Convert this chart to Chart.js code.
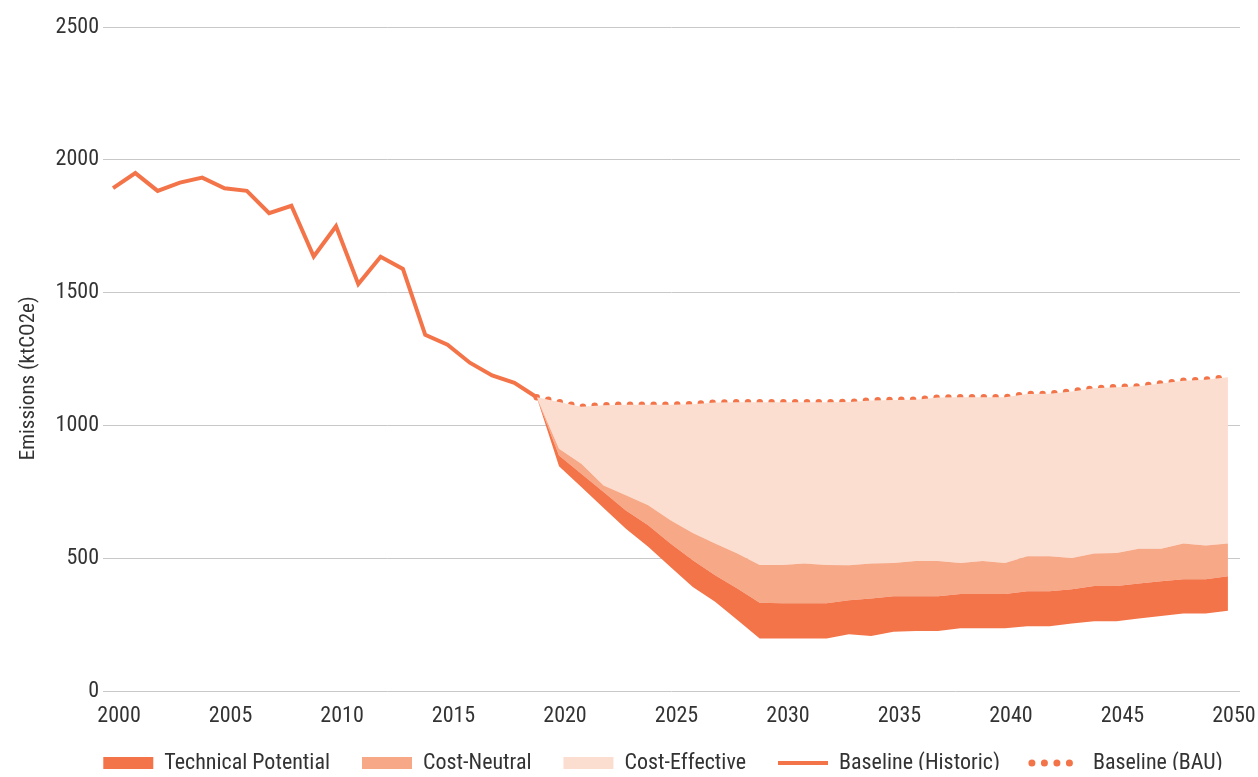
<!DOCTYPE html>
<html>
<head>
<meta charset="utf-8">
<script src="https://cdn.jsdelivr.net/npm/chart.js@4.4.1/dist/chart.umd.min.js"></script>
<style>
  html, body { margin: 0; padding: 0; background: #fff; }
  #wrap { width: 1258px; height: 777px; position: relative; }
</style>
</head>
<body>
<div id="wrap"><canvas id="c"></canvas></div>
<script>
// ---- Data ----
const historicYears = [2000,2001,2002,2003,2004,2005,2006,2007,2008,2009,2010,2011,2012,2013,2014,2015,2016,2017,2018,2019];
const historicValues = [1893,1950,1883,1914,1933,1893,1883,1799,1827,1636,1750,1532,1635,1589,1341,1304,1236,1188,1160,1106];

const projYears = [2019,2020,2021,2022,2023,2024,2025,2026,2027,2028,2029,2030,2031,2032,2033,2034,2035,2036,2037,2038,2039,2040,2041,2042,2043,2044,2045,2046,2047,2048,2049,2050];
const bauValues = [1106,1088,1070,1076,1078,1078,1078,1080,1086,1087,1087,1087,1087,1087,1088,1094,1096,1097,1105,1106,1106,1106,1118,1119,1128,1140,1144,1147,1158,1168,1172,1181];
// lower edge of the Technical Potential band
const technicalLower = [1106,846,768,689,611,543,467,392,336,267,198,198,198,198,214,207,223,226,226,236,236,236,244,244,254,263,263,273,282,292,292,302];
// Technical Potential / Cost-Neutral boundary
const costNeutralLower = [1106,887,818,749,680,624,555,492,436,386,332,330,330,330,342,348,357,357,357,365,365,365,376,376,383,395,395,405,413,421,421,432];
// Cost-Neutral / Cost-Effective boundary
const costEffectiveLower = [1106,912,856,774,737,699,643,595,555,518,474,474,480,474,473,480,482,489,489,482,489,482,507,507,501,518,520,536,536,555,548,555];

const xTickValues = [2000,2005,2010,2015,2020,2025,2030,2035,2040,2045,2050];
const yTickStep = 500;
const yMax = 2500;

// ---- Styles ----
const C_DARK = '#F4744A';
const C_MED = '#F7A886';
const C_LIGHT = '#FBDECF';
const FONT = "'Roboto Condensed', 'Liberation Sans Narrow', 'Arial Narrow', sans-serif";
const TEXT = '#333333';

const pts = (xs, ys) => xs.map((x, i) => ({ x: x, y: ys[i] }));

const datasets = [
  { label: '_lower', data: pts(projYears, technicalLower), borderWidth: 0, pointRadius: 0, fill: false, borderColor: 'rgba(0,0,0,0)' },
  { label: 'Technical Potential', data: pts(projYears, costNeutralLower), borderWidth: 0, pointRadius: 0, fill: '-1', backgroundColor: C_DARK, borderColor: 'rgba(0,0,0,0)' },
  { label: 'Cost-Neutral', data: pts(projYears, costEffectiveLower), borderWidth: 0, pointRadius: 0, fill: '-1', backgroundColor: C_MED, borderColor: 'rgba(0,0,0,0)' },
  { label: 'Cost-Effective', data: pts(projYears, bauValues), borderWidth: 0, pointRadius: 0, fill: '-1', backgroundColor: C_LIGHT, borderColor: 'rgba(0,0,0,0)' },
  { label: 'Baseline (BAU)', data: pts(projYears, bauValues), borderWidth: 6.5, borderDash: [0, 11.8], borderCapStyle: 'round', borderColor: C_DARK, pointRadius: 0, fill: false },
  { label: 'Baseline (Historic)', data: pts(historicYears, historicValues), borderWidth: 4, borderColor: C_DARK, borderJoinStyle: 'miter', pointRadius: 0, fill: false }
];

const legendItems = [
  { text: 'Technical Potential', fillStyle: C_DARK, strokeStyle: C_DARK, lineWidth: 0, pointStyle: 'rect' },
  { text: 'Cost-Neutral', fillStyle: C_MED, strokeStyle: C_MED, lineWidth: 0, pointStyle: 'rect' },
  { text: 'Cost-Effective', fillStyle: C_LIGHT, strokeStyle: C_LIGHT, lineWidth: 0, pointStyle: 'rect' },
  { text: 'Baseline (Historic)', fillStyle: C_DARK, strokeStyle: C_DARK, lineWidth: 4, pointStyle: 'line' },
  { text: 'Baseline (BAU)', fillStyle: C_DARK, strokeStyle: C_DARK, lineWidth: 7, pointStyle: 'line', lineDash: [0, 12.5], lineCap: 'round' }
];

const LEGEND_HEIGHT = 50;
const LEGEND_SHIFT_X = 43;
const LEGEND_SHIFT_Y = -7;

const legendTweak = {
  id: 'legendTweak',
  afterInit(chart) {
    const lg = chart.legend;
    if (!lg) return;
    const origFit = lg.fit.bind(lg);
    lg.fit = function () { origFit(); this.height = LEGEND_HEIGHT; };
  },
  afterLayout(chart) {
    const lg = chart.legend;
    if (!lg) return;
    lg.left += LEGEND_SHIFT_X;
    lg.right += LEGEND_SHIFT_X;
    lg.top += LEGEND_SHIFT_Y;
    lg.bottom += LEGEND_SHIFT_Y;
  }
};

new Chart(document.getElementById('c'), {
  type: 'line',
  data: { datasets: datasets },
  plugins: [legendTweak],
  options: {
    responsive: true,
    maintainAspectRatio: false,
    animation: false,
    devicePixelRatio: 1,
    layout: { padding: { top: 27, right: 18, left: 0, bottom: 0 } },
    elements: { line: { tension: 0 } },
    plugins: {
      tooltip: { enabled: false },
      legend: {
        position: 'bottom',
        fullSize: true,
        labels: {
          usePointStyle: true,
          pointStyleWidth: 50,
          boxHeight: 12,
          padding: 32,
          color: TEXT,
          font: { family: FONT, size: 22 },
          generateLabels: () => legendItems.map(it => Object.assign({ hidden: false, fontColor: TEXT }, it))
        }
      }
    },
    scales: {
      x: {
        type: 'linear',
        min: 1999.55,
        max: 2050.54,
        afterBuildTicks: (s) => { s.ticks = xTickValues.map(v => ({ value: v })); },
        afterFit: (s) => { s.height = 36; },
        ticks: { color: TEXT, font: { family: FONT, size: 22 }, padding: 4, labelOffset: 6, maxRotation: 0, callback: (v) => String(v) },
        grid: { display: false },
        border: { display: false }
      },
      y: {
        min: 0,
        max: yMax,
        afterFit: (s) => { s.width = 103; },
        ticks: { stepSize: yTickStep, color: TEXT, font: { family: FONT, size: 22 }, padding: 4, callback: (v) => String(v) },
        grid: { color: '#c8c8c8', lineWidth: 1, drawTicks: false },
        border: { display: false },
        title: { display: true, text: 'Emissions (ktCO2e)        ', color: TEXT, font: { family: FONT, size: 21 }, padding: { top: 16, bottom: 0 } }
      }
    }
  }
});
</script>
</body>
</html>
